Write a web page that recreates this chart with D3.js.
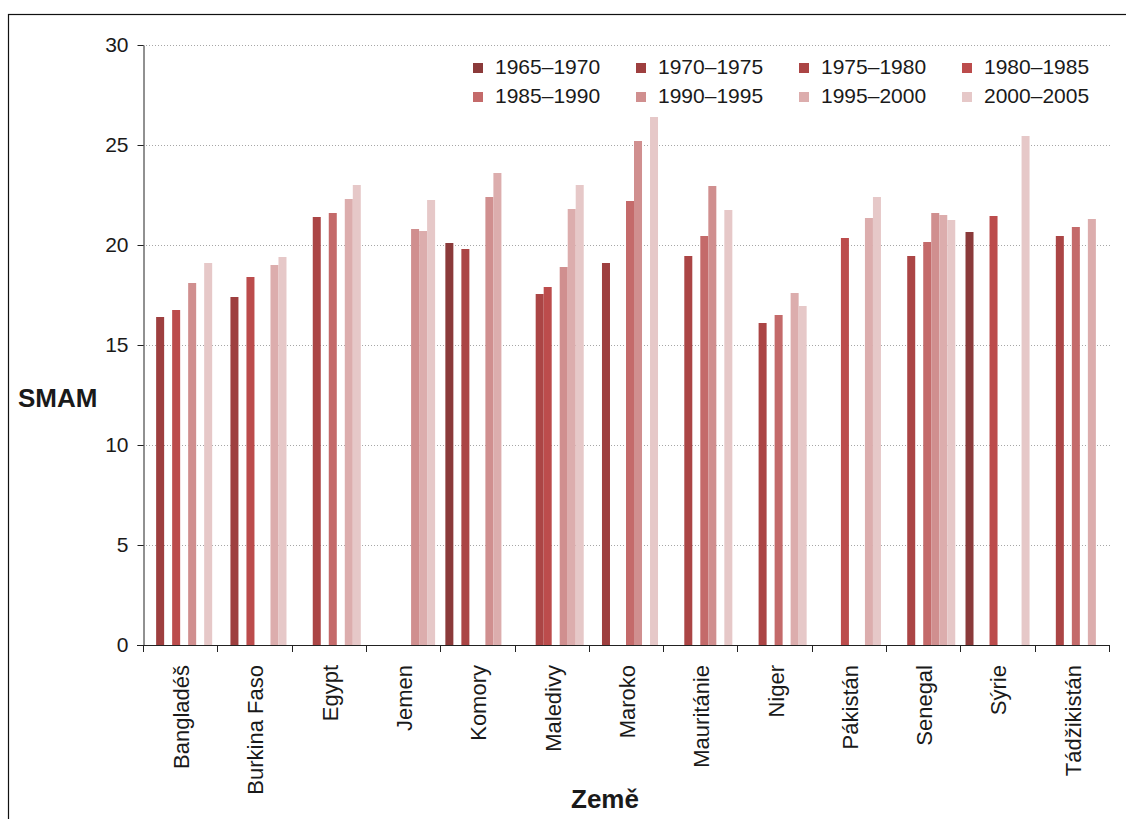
<!DOCTYPE html>
<html>
<head>
<meta charset="utf-8">
<script src="https://cdn.jsdelivr.net/npm/d3@7"></script>
<style>
body { margin: 0; background: #fff; }
text { font-family: "Liberation Sans", Arial, sans-serif; fill: #1a1a1a; }
.grid line { stroke: #a6a6a6; stroke-dasharray: 1,2; }
.axis path, .axis line { stroke: #222; }
</style>
</head>
<body>
<script>
var countries = ["Bangladéš", "Burkina Faso", "Egypt", "Jemen", "Komory", "Maledivy", "Maroko",
	"Mauritánie", "Niger", "Pákistán", "Senegal", "Sýrie", "Tádžikistán"];
var periods = ["1965–1970", "1970–1975", "1975–1980", "1980–1985",
	"1985–1990", "1990–1995", "1995–2000", "2000–2005"];
var colors = ["#8b3a3a", "#9e3f3f", "#ab4545", "#bc4c4c", "#c46a6a", "#d08f8f", "#dcadad", "#e6c8c8"];

// one array per period, in the order of countries; null = no value
var s1965 = [null, null, null, null, 20.1, null, null, null, null, null, null, 20.65, null];
var s1970 = [16.4, 17.4, null, null, null, null, 19.1, null, null, null, null, null, null];
var s1975 = [null, null, 21.4, null, 19.8, 17.55, null, 19.45, 16.1, null, 19.45, null, 20.45];
var s1980 = [16.75, 18.4, null, null, null, 17.9, null, null, null, 20.35, null, 21.45, null];
var s1985 = [null, null, 21.6, null, null, null, 22.2, 20.45, 16.5, null, 20.15, null, 20.9];
var s1990 = [18.1, null, null, 20.8, 22.4, 18.9, 25.2, 22.95, null, null, 21.6, null, null];
var s1995 = [null, 19.0, 22.3, 20.7, 23.6, 21.8, null, null, 17.6, 21.35, 21.5, null, 21.3];
var s2000 = [19.1, 19.4, 23.0, 22.25, null, 23.0, 26.4, 21.75, 16.95, 22.4, 21.25, 25.45, null];
var yTicks = [0, 5, 10, 15, 20, 25, 30];

var series = [s1965, s1970, s1975, s1980, s1985, s1990, s1995, s2000];

var W = 1126, H = 819;
var mLeft = 143, mRight = 1109, mTop = 45, mBottom = 645;

var svg = d3.select("body").append("svg")
	.attr("width", W)
	.attr("height", H);

// outer frame
svg.append("rect")
	.attr("x", 8.5).attr("y", 14.5)
	.attr("width", W + 10).attr("height", H + 10)
	.attr("fill", "none").attr("stroke", "#111").attr("stroke-width", 1.2);

var x0 = d3.scaleBand().domain(countries).range([mLeft, mRight]).padding(0);
var x1 = d3.scaleBand().domain(d3.range(periods.length)).range([0, x0.bandwidth()])
	.paddingInner(0).paddingOuter(0.64);
var y = d3.scaleLinear().domain([0, 30]).range([mBottom, mTop]);

// dotted gridlines
svg.append("g").attr("class", "grid")
	.selectAll("line").data(yTicks.filter(function(d){ return d > 0; }))
	.enter().append("line")
	.attr("x1", mLeft).attr("x2", mRight + 1)
	.attr("y1", function(d){ return Math.round(y(d)) + 0.5; })
	.attr("y2", function(d){ return Math.round(y(d)) + 0.5; });

// bars
var flat = [];
series.forEach(function(s, si){
	s.forEach(function(v, ci){
		if (v != null) flat.push({c: countries[ci], s: si, v: v});
	});
});
svg.append("g").selectAll("rect")
	.data(flat).enter().append("rect")
	.attr("x", function(d){ return x0(d.c) + x1(d.s); })
	.attr("width", x1.bandwidth())
	.attr("y", function(d){ return y(d.v); })
	.attr("height", function(d){ return mBottom - y(d.v); })
	.attr("fill", function(d){ return colors[d.s]; });

// y axis
var yAxis = svg.append("g").attr("class", "axis")
	.attr("transform", "translate(" + (mLeft + 0.5) + ",0)")
	.call(d3.axisLeft(y).tickValues(yTicks).tickSize(6).tickPadding(9).tickSizeOuter(0));
yAxis.selectAll("text").style("font-size", "21px").style("fill", "#1a1a1a");

// x axis: line plus ticks at category boundaries
var xg = svg.append("g").attr("class", "axis");
xg.append("line")
	.attr("x1", mLeft - 6).attr("x2", mRight + 1)
	.attr("y1", mBottom + 0.5).attr("y2", mBottom + 0.5);
var bounds = countries.map(function(c){ return x0(c); }).concat([mRight]);
xg.selectAll("line.tk").data(bounds).enter().append("line").attr("class", "tk")
	.attr("x1", function(d){ return Math.round(d) + 0.5; })
	.attr("x2", function(d){ return Math.round(d) + 0.5; })
	.attr("y1", mBottom).attr("y2", mBottom + 7);

xg.selectAll("text").data(countries).enter().append("text")
	.attr("transform", function(d){
		return "translate(" + (x0(d) + x0.bandwidth() / 2 + 1) + "," + (mBottom + 20) + ") rotate(-90)";
	})
	.attr("text-anchor", "end")
	.attr("dy", "0.36em")
	.style("font-size", "22px")
	.text(function(d){ return d; });

// axis titles
svg.append("text")
	.attr("x", 18).attr("y", 407)
	.style("font-size", "26px").style("font-weight", "bold")
	.text("SMAM");
svg.append("text")
	.attr("x", 605).attr("y", 808)
	.attr("text-anchor", "middle")
	.style("font-size", "26px").style("font-weight", "bold")
	.text("Země");

// legend, 2 rows of 4
var leg = svg.append("g").selectAll("g")
	.data(periods).enter().append("g")
	.attr("transform", function(d, i){
		return "translate(" + (473 + (i % 4) * 163) + "," + (63 + Math.floor(i / 4) * 29) + ")";
	});
leg.append("rect")
	.attr("width", 10).attr("height", 10)
	.attr("fill", function(d, i){ return colors[i]; });
leg.append("text")
	.attr("x", 22).attr("y", 10.5)
	.style("font-size", "21px")
	.text(function(d){ return d; });
</script>
</body>
</html>
